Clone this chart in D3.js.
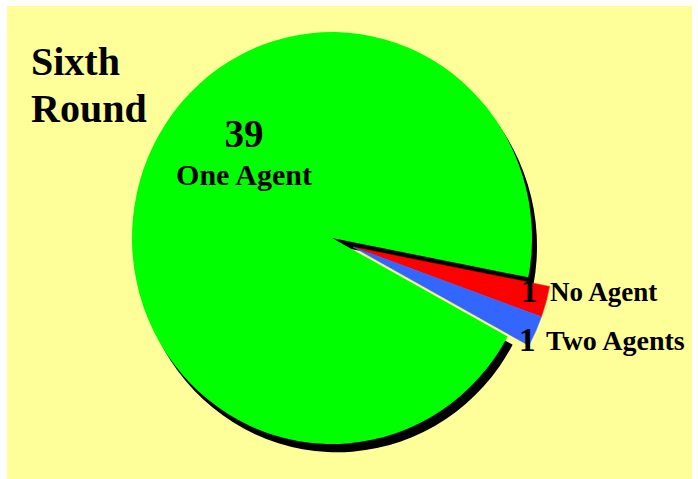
<!DOCTYPE html>
<html>
<head>
<meta charset="utf-8">
<script src="https://cdn.jsdelivr.net/npm/d3@7"></script>
<style>
  body { margin: 0; background: #fff; }
  text { font-family: "Liberation Serif", "Times New Roman", serif; font-weight: bold; fill: #000; }
</style>
</head>
<body>
<div id="chart"></div>
<script>
// Data
const categories = ["No Agent", "Two Agents", "One Agent"];
const counts = [1, 1, 39];
const sliceColors = ["#ff0000", "#3366ff", "#00ff00"];
const exploded = [true, true, false];
const titleLines = ["Sixth", "Round"];

const width = 698, height = 479;
const cx = 332, cy = 238, r = 200;

const svg = d3.select("#chart")
  .append("svg")
  .attr("width", width)
  .attr("height", height);

// Background panel
svg.append("rect")
  .attr("x", 7)
  .attr("y", 6)
  .attr("width", 685)
  .attr("height", 473)
  .attr("fill", "#ffff99");

const data = categories.map((c, i) => ({name: c, value: counts[i], color: sliceColors[i], explode: exploded[i]}));

// start the small slices a little below 3 o'clock
const a0 = (90 + 11) * Math.PI / 180;
const pie = d3.pie()
  .sort(null)
  .value(d => d.value)
  .startAngle(a0)
  .endAngle(a0 + 2 * Math.PI);

const arc = d3.arc().innerRadius(0).outerRadius(r);
const arcs = pie(data);

// the small slices are pulled out together, along their common bisector
const ex = arcs.filter(d => d.data.explode);
const exMid = (d3.min(ex, d => d.startAngle) + d3.max(ex, d => d.endAngle)) / 2 + 0.05;
const exDist = 23;
const exDx = Math.sin(exMid) * exDist, exDy = -Math.cos(exMid) * exDist;

const g = svg.append("g")
  .attr("transform", `translate(${cx},${cy}) scale(1,1.03)`);

// Shadow for the big slice
g.selectAll(".shadow")
  .data(arcs.filter(d => !d.data.explode))
  .enter()
  .append("path")
  .attr("class", "shadow")
  .attr("d", arc)
  .attr("transform", "translate(5,8)")
  .attr("fill", "#000");

// Slices
g.selectAll(".slice")
  .data(arcs)
  .enter()
  .append("path")
  .attr("class", "slice")
  .attr("d", arc)
  .attr("fill", d => d.data.color)
  .attr("stroke", d => d.data.explode ? d.data.color : "none")
  .attr("stroke-width", 0.5)
  .attr("transform", d => d.data.explode ? `translate(${exDx},${exDy})` : null);

// Title
svg.selectAll(".title")
  .data(titleLines)
  .enter()
  .append("text")
  .attr("class", "title")
  .attr("x", 31)
  .attr("y", (d, i) => 75 + i * 47)
  .style("font-size", "40px")
  .text(d => d);

// Big slice label
svg.append("text")
  .attr("x", 244)
  .attr("y", 147)
  .attr("text-anchor", "middle")
  .style("font-size", "39px")
  .text(counts[2]);

svg.append("text")
  .attr("x", 244)
  .attr("y", 185)
  .attr("text-anchor", "middle")
  .style("font-size", "30px")
  .text(categories[2]);

// Small slice labels
const smallLabels = [
  {i: 0, nx: 521, tx: 550, y: 301, fs: 27},
  {i: 1, nx: 519, tx: 546, y: 350, fs: 28}
];
smallLabels.forEach(l => {
  svg.append("text")
    .attr("x", l.nx)
    .attr("y", l.y + 1)
    .style("font-size", "33px")
    .text(counts[l.i]);
  svg.append("text")
    .attr("x", l.tx)
    .attr("y", l.y)
    .style("font-size", l.fs + "px")
    .text(categories[l.i]);
});
</script>
</body>
</html>
